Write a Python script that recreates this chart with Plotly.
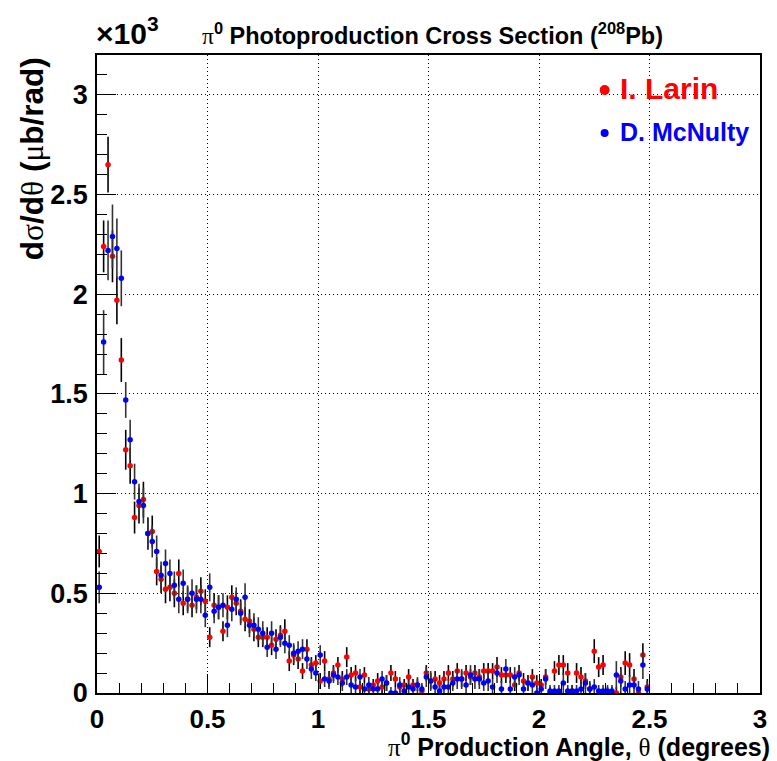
import plotly.graph_objects as go

# Angular binning: 125 bins of 0.02 deg from 0 to 2.5 deg
bin_width = 0.02
n_bins = 125
theta = [round(bin_width * (k + 0.5), 3) for k in range(n_bins)]

# dsigma/dtheta in units of 10^3 ub/rad
larin = [
    0.71, 2.24, 2.65, 2.19, 1.97, 1.67, 1.22, 1.14, 0.88, 0.94,
    0.97, 0.80, 0.81, 0.61, 0.57, 0.52, 0.53, 0.50, 0.60, 0.45,
    0.47, 0.44, 0.48, 0.51, 0.46, 0.28, 0.44, 0.43, 0.31, 0.43,
    0.48, 0.45, 0.41, 0.37, 0.36, 0.32, 0.28, 0.28, 0.28, 0.24,
    0.27, 0.29, 0.31, 0.16, 0.19, 0.17, 0.11, 0.22, 0.14, 0.15,
    0.06, 0.16, 0.07, 0.10, 0.14, 0.07, 0.18, 0.09, 0.10, 0.03,
    0.09, 0.02, 0.04, 0.06, 0.03, 0.05, 0.10, 0.07, 0.03, 0.04,
    0.08, 0.04, 0.04, 0.01, 0.10, 0.06, 0.07, 0.05, 0.07, 0.10,
    0.07, 0.11, 0.07, 0.10, 0.08, 0.10, 0.08, 0.11, 0.11, 0.11,
    0.13, 0.09, 0.09, 0.09, 0.04, 0.10, 0.06, 0.05, 0.08, 0.05,
    0.04, 0.08, 0.00, 0.11, 0.14, 0.14, 0.10, 0.01, 0.10, 0.08,
    0.06, 0.02, 0.21, 0.13, 0.14, 0.00, 0.00, 0.00, 0.08, 0.15,
    0.14, 0.07, 0.00, 0.19, 0.03,
]
larin_err = [
    0.08, 0.13, 0.14, 0.13, 0.12, 0.11, 0.10, 0.09, 0.08, 0.09,
    0.09, 0.08, 0.08, 0.07, 0.07, 0.07, 0.07, 0.07, 0.07, 0.06,
    0.06, 0.06, 0.06, 0.07, 0.06, 0.05, 0.06, 0.06, 0.05, 0.06,
    0.06, 0.06, 0.06, 0.06, 0.06, 0.06, 0.05, 0.05, 0.05, 0.05,
    0.05, 0.05, 0.06, 0.05, 0.05, 0.05, 0.04, 0.05, 0.04, 0.04,
    0.04, 0.05, 0.04, 0.04, 0.04, 0.04, 0.05, 0.04, 0.04, 0.03,
    0.04, 0.03, 0.03, 0.04, 0.03, 0.04, 0.04, 0.04, 0.03, 0.03,
    0.04, 0.03, 0.03, 0.03, 0.04, 0.04, 0.04, 0.04, 0.04, 0.04,
    0.04, 0.04, 0.04, 0.04, 0.04, 0.04, 0.04, 0.04, 0.04, 0.04,
    0.05, 0.04, 0.04, 0.04, 0.03, 0.04, 0.04, 0.04, 0.04, 0.04,
    0.03, 0.04, 0.03, 0.05, 0.05, 0.05, 0.05, 0.03, 0.05, 0.05,
    0.04, 0.03, 0.06, 0.05, 0.05, 0.03, 0.03, 0.03, 0.05, 0.06,
    0.06, 0.05, 0.03, 0.06, 0.04,
]

mcnulty = [
    0.53, 1.76, 2.22, 2.29, 2.23, 2.08, 1.47, 1.27, 1.06, 0.96,
    0.94, 0.80, 0.76, 0.71, 0.59, 0.65, 0.60, 0.54, 0.47, 0.55,
    0.47, 0.50, 0.47, 0.47, 0.39, 0.53, 0.41, 0.43, 0.44, 0.34,
    0.42, 0.47, 0.40, 0.48, 0.34, 0.34, 0.32, 0.30, 0.23, 0.30,
    0.22, 0.28, 0.25, 0.24, 0.20, 0.21, 0.22, 0.17, 0.12, 0.10,
    0.19, 0.07, 0.06, 0.09, 0.08, 0.05, 0.08, 0.04, 0.03, 0.08,
    0.02, 0.04, 0.02, 0.02, 0.07, 0.05, 0.00, 0.00, 0.04, 0.01,
    0.03, 0.02, 0.04, 0.02, 0.08, 0.06, 0.03, 0.01, 0.03, 0.03,
    0.05, 0.07, 0.07, 0.04, 0.09, 0.07, 0.07, 0.05, 0.06, 0.03,
    0.10, 0.02, 0.12, 0.02, 0.08, 0.09, 0.02, 0.05, 0.04, 0.00,
    0.02, 0.07, 0.01, 0.01, 0.01, 0.05, 0.01, 0.01, 0.01, 0.02,
    0.05, 0.02, 0.03, 0.01, 0.01, 0.01, 0.01, 0.09, 0.06, 0.02,
    0.04, 0.04, 0.02, 0.14, 0.02,
]
mcnulty_err = [
    0.08, 0.16, 0.15, 0.16, 0.15, 0.14, 0.09, 0.10, 0.09, 0.09,
    0.09, 0.08, 0.08, 0.08, 0.07, 0.07, 0.07, 0.07, 0.07, 0.07,
    0.07, 0.07, 0.07, 0.07, 0.06, 0.07, 0.06, 0.06, 0.06, 0.06,
    0.06, 0.06, 0.06, 0.07, 0.06, 0.06, 0.06, 0.06, 0.05, 0.06,
    0.05, 0.05, 0.05, 0.05, 0.05, 0.05, 0.05, 0.05, 0.05, 0.04,
    0.05, 0.04, 0.04, 0.04, 0.04, 0.04, 0.04, 0.04, 0.04, 0.04,
    0.03, 0.04, 0.03, 0.03, 0.04, 0.04, 0.03, 0.03, 0.04, 0.03,
    0.04, 0.03, 0.04, 0.03, 0.05, 0.05, 0.04, 0.03, 0.04, 0.04,
    0.04, 0.05, 0.05, 0.04, 0.05, 0.05, 0.05, 0.04, 0.05, 0.04,
    0.05, 0.04, 0.05, 0.04, 0.05, 0.05, 0.04, 0.04, 0.04, 0.03,
    0.04, 0.05, 0.03, 0.03, 0.03, 0.05, 0.03, 0.03, 0.03, 0.04,
    0.05, 0.04, 0.04, 0.03, 0.03, 0.03, 0.03, 0.07, 0.06, 0.04,
    0.05, 0.05, 0.04, 0.07, 0.04,
]

series = [
    ("I. Larin", larin, larin_err, "#ff0000", "#000000"),
    ("D. McNulty", mcnulty, mcnulty_err, "#0000ff", "#333333"),
]

SANS = "Liberation Sans, Arial, Helvetica, sans-serif"
GREEK = "font-family:Liberation Serif, Times New Roman, serif;font-weight:normal"


def greek(ch):
    return f'<span style="{GREEK}">{ch}</span>'


fig = go.Figure()
for name, vals, errs, col, ecol in series:
    fig.add_trace(go.Scatter(
        x=theta, y=vals, mode="markers", name=name,
        marker=dict(color=col, size=5.5, line=dict(width=0)),
        error_y=dict(type="data", array=errs, visible=True,
                     thickness=1.6, width=0, color=ecol),
        showlegend=False,
    ))

axis_common = dict(
    showline=True, linecolor="black", linewidth=1.5, mirror=True,
    ticks="inside", ticklen=19, tickwidth=1.2, tickcolor="black",
    showgrid=True, gridcolor="black", gridwidth=1, griddash="1px,3px",
    zeroline=False,
    minor=dict(ticks="inside", ticklen=10, tickwidth=1.2,
               tickcolor="black", dtick=0.1, showgrid=False),
)

fig.update_xaxes(range=[0, 3], dtick=0.5, tick0=0, ticklabelstandoff=2,
                 tickfont=dict(family=SANS, size=26, color="black", weight="bold"),
                 **axis_common)
fig.update_yaxes(range=[0, 3.2], dtick=0.5, tick0=0, ticklabelstandoff=2,
                 tickfont=dict(family=SANS, size=27, color="black", weight="bold"),
                 **axis_common)

# pixel -> paper helpers for the plotting frame
L, R, T, B = 97, 767, 55, 693


def px(xp):
    return (xp - L) / (R - L)


def py(yp):
    return (B - yp) / (B - T)


annotations = [
    dict(text=f"<b>{greek('π')}<sup>0</sup> Photoproduction Cross Section (<sup>208</sup>Pb)</b>",
         x=px(436), y=py(34), xanchor="center", yanchor="middle",
         font=dict(size=23.5)),
    dict(text=f"<b>{greek('π')}<sup>0</sup> Production Angle, {greek('θ')} (degrees)</b>",
         x=px(779), y=py(745), xanchor="right", yanchor="middle",
         font=dict(size=25)),
    dict(text=f"<b>d{greek('σ')}/d{greek('θ')} ({greek('μ')}b/rad)</b>",
         x=px(31), y=py(55), xanchor="center", yanchor="top", textangle=-90,
         font=dict(size=31.5)),
    dict(text="<b>×10<sup>3</sup></b>",
         x=px(94), y=py(52), xanchor="left", yanchor="bottom",
         font=dict(size=30)),
    dict(text="<b>I. Larin</b>", x=px(624), y=py(89), xanchor="left",
         yanchor="middle", font=dict(size=30, color="#ff0000")),
    dict(text="<b>D. McNulty</b>", x=px(624), y=py(132), xanchor="left",
         yanchor="middle", font=dict(size=25, color="#0000ff")),
]
for a in annotations:
    a.update(xref="paper", yref="paper", showarrow=False)
    a["font"].setdefault("color", "black")
    a["font"]["family"] = SANS

shapes = []
for (xc, yc, r, col) in [(610, 90, 5, "#ff0000"), (610, 133, 4, "#0000ff")]:
    shapes.append(dict(type="circle", xref="paper", yref="paper",
                       xsizemode="pixel", ysizemode="pixel",
                       xanchor=px(xc), yanchor=py(yc),
                       x0=-r, x1=r, y0=-r, y1=r,
                       fillcolor=col, line=dict(width=0)))

fig.update_layout(
    width=777, height=761,
    margin=dict(l=L, r=777 - R, t=T, b=761 - B),
    paper_bgcolor="white", plot_bgcolor="white",
    font=dict(family=SANS, color="black"),
    annotations=annotations, shapes=shapes,
)

fig.write_html("out.html")
